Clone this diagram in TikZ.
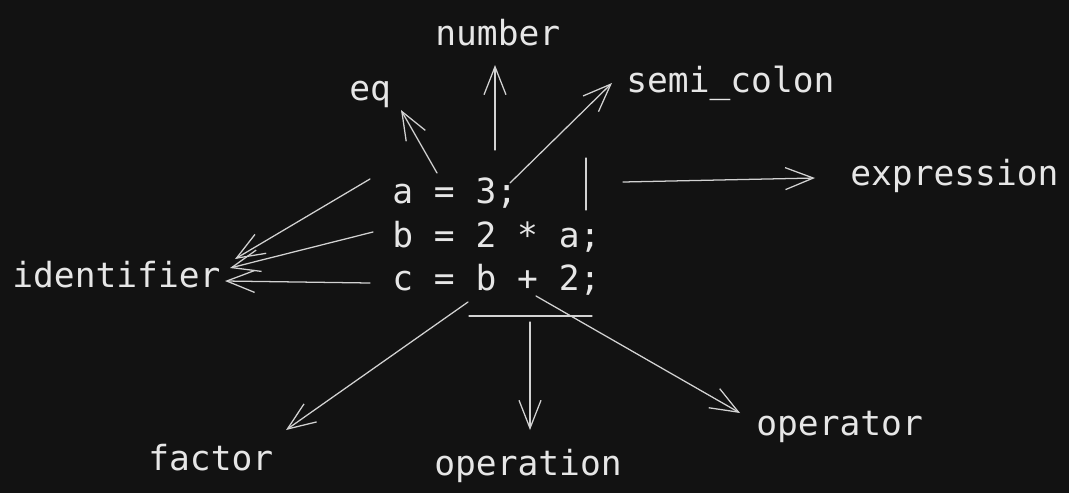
\documentclass[tikz,border=0pt]{standalone}
\usepackage{fontspec}
\setmonofont{DejaVu Sans Mono}
\usetikzlibrary{arrows.meta}

\definecolor{bg}{HTML}{121212}
\definecolor{ink}{HTML}{E6E6E6}
\definecolor{pen}{HTML}{D2D2D2}

\tikzset{
  tok/.style={anchor=base west, inner sep=0pt, text=ink, font=\ttfamily\fontsize{24.6}{30}\selectfont},
  link/.style={draw=pen, line width=0.9pt, line cap=round},
  arr/.style={link, -{Straight Barb[length=7mm, width=5.5mm]}}
}

\begin{document}
\begin{tikzpicture}[x=0.025cm, y=-0.025cm]
  \fill [bg] (0, 0) rectangle (1069, 493);
  \useasboundingbox (0, 0) rectangle (1069, 493);

  % the three statements
  \node [tok] (la) at (392, 203) {a = 3;};
  \node [tok] (lb) at (392, 247) {b = 2 * a;};
  \node [tok] (lc) at (392, 290) {c = b + 2;};

  % token names
  \node [tok] (number) at (435, 45) {number};
  \node [tok] (eq) at (349, 100) {eq};
  \node [tok] (semi) at (626, 92) {semi\_colon};
  \node [tok] (expr) at (850, 185) {expression};
  \node [tok] (ident) at (12, 287) {identifier};
  \node [tok] (factor) at (148, 470) {factor};
  \node [tok] (operation) at (434, 475) {operation};
  \node [tok] (operator) at (756, 435) {operator};

  % end points
  \coordinate (a-eq) at (437, 173);     \coordinate (to-eq) at (401, 110);
  \coordinate (a-num) at (495, 150);    \coordinate (to-num) at (495, 65);
  \coordinate (a-semi) at (510, 183);   \coordinate (to-semi) at (612, 83);
  \coordinate (bar-top) at (586, 158);  \coordinate (bar-bot) at (586, 210);
  \coordinate (a-expr) at (623, 182);   \coordinate (to-expr) at (815, 178);
  \coordinate (a-id) at (370, 179);     \coordinate (to-id1) at (235, 259);
  \coordinate (b-id) at (373, 232);     \coordinate (to-id2) at (230, 268);
  \coordinate (c-id) at (370, 283);     \coordinate (to-id3) at (225, 281);
  \coordinate (c-fac) at (468, 302);    \coordinate (to-fac) at (286, 430);
  \coordinate (ul-l) at (469, 316);     \coordinate (ul-r) at (592, 316);
  \coordinate (c-opn) at (530, 322);    \coordinate (to-opn) at (530, 430);
  \coordinate (c-opr) at (536, 296);    \coordinate (to-opr) at (740, 413);

  \draw [arr] (a-eq) -- (to-eq);
  \draw [arr] (a-num) -- (to-num);
  \draw [arr] (a-semi) -- (to-semi);
  \draw [link] (bar-top) -- (bar-bot);
  \draw [arr] (a-expr) -- (to-expr);
  \draw [arr] (a-id) -- (to-id1);
  \draw [arr] (b-id) -- (to-id2);
  \draw [arr] (c-id) -- (to-id3);
  \draw [arr] (c-fac) -- (to-fac);
  \draw [link] (ul-l) -- (ul-r);
  \draw [arr] (c-opn) -- (to-opn);
  \draw [arr] (c-opr) -- (to-opr);
\end{tikzpicture}
\end{document}
